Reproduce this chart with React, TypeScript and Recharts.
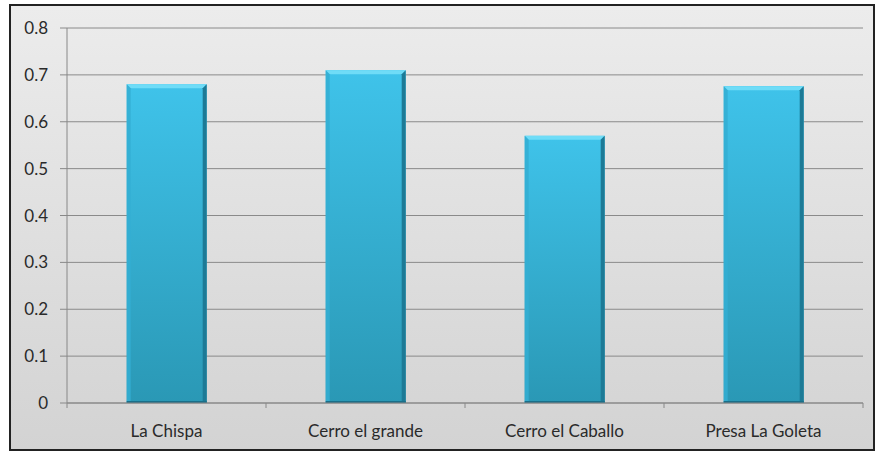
import { Bar, BarChart, CartesianGrid, XAxis, YAxis } from "recharts";

const sites = ["La Chispa", "Cerro el grande", "Cerro el Caballo", "Presa La Goleta"];
const values = [0.68, 0.71, 0.57, 0.676];
const yTicks = [0, 0.1, 0.2, 0.3, 0.4, 0.5, 0.6, 0.7, 0.8];

const data = sites.map((site, i) => ({ site, value: values[i] }));

const FONT = "Lato, 'Open Sans', sans-serif";

function BevelBar(props: any) {
  const { x, y, width, height } = props;
  if (!height || height <= 0) return null;
  const b = 4;
  return (
    <g>
      <rect x={x} y={y} width={width} height={height} fill="url(#barBody)" />
      <polygon
        points={`${x},${y} ${x + width},${y} ${x + width - b},${y + b} ${x + b},${y + b}`}
        fill="#6fdcf7"
      />
      <polygon
        points={`${x},${y} ${x + b},${y + b} ${x + b},${y + height} ${x},${y + height}`}
        fill="#34aed2"
        opacity={0.85}
      />
      <polygon
        points={`${x + width},${y} ${x + width},${y + height} ${x + width - b},${y + height} ${x + width - b},${y + b}`}
        fill="#1d7a96"
      />
      <rect x={x} y={y + height - 2} width={width} height={2} fill="#1a6f89" />
    </g>
  );
}

function SiteTick(props: any) {
  const { x, y, payload, index, visibleTicksCount } = props;
  const off = payload.offset ?? 0;
  const top = y - 8;
  return (
    <g>
      <line x1={x - off} y1={top} x2={x - off} y2={top + 5} stroke="#888" />
      {index === visibleTicksCount - 1 && (
        <line x1={x + off} y1={top} x2={x + off} y2={top + 5} stroke="#888" />
      )}
      <text x={x} y={y + 26} textAnchor="middle" fill="#2a2a2a" fontSize={17} fontFamily={FONT}>
        {payload.value}
      </text>
    </g>
  );
}

export default function App() {
  return (
    <div
      style={{
        position: "absolute",
        left: 9,
        top: 4,
        width: 862,
        height: 443,
        border: "2px solid #222",
        background: "linear-gradient(#ececec, #d3d3d3)",
      }}
    >
      <BarChart
        width={862}
        height={443}
        data={data}
        margin={{ top: 22, right: 10, bottom: 0, left: 0 }}
        barCategoryGap="30%"
      >
        <defs>
          <linearGradient id="barBody" x1="0" y1="0" x2="0" y2="1">
            <stop offset="0%" stopColor="#3fc3ea" />
            <stop offset="100%" stopColor="#2a98b5" />
          </linearGradient>
        </defs>
        <CartesianGrid vertical={false} stroke="#8a8a8a" />
        <XAxis
          dataKey="site"
          height={46}
          axisLine={{ stroke: "#888" }}
          tickLine={false}
          tick={<SiteTick />}
          interval={0}
        />
        <YAxis
          width={56}
          domain={[0, 0.8]}
          ticks={yTicks}
          axisLine={{ stroke: "#888" }}
          tickLine={{ stroke: "#888" }}
          tickSize={7}
          tickMargin={12}
          tick={{ fill: "#2a2a2a", fontSize: 17, fontFamily: FONT }}
          tickFormatter={(v) => String(v)}
        />
        <Bar dataKey="value" shape={<BevelBar />} isAnimationActive={false} />
      </BarChart>
    </div>
  );
}
